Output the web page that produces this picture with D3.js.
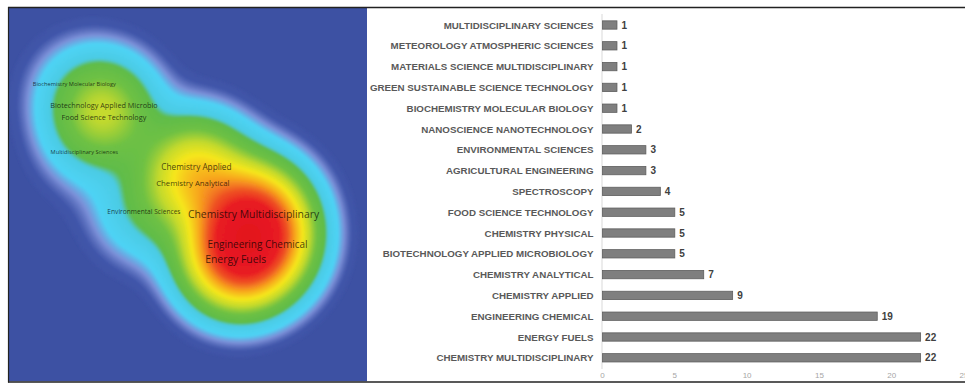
<!DOCTYPE html>
<html>
<head>
<meta charset="utf-8">
<script src="https://cdn.jsdelivr.net/npm/d3@7"></script>
<style>
  html, body { margin: 0; padding: 0; background: #fff; }
  svg { display: block; }
</style>
</head>
<body>
<svg id="chart" width="965" height="384"></svg>
<script>
// ---- Term density map: labels, map coordinates and occurrence weights ----
const mapTerms = [
  "Biochemistry Molecular Biology", "Biotechnology Applied Microbio", "Food Science Technology",
  "Multidisciplinary Sciences", "Chemistry Applied", "Chemistry Analytical",
  "Environmental Sciences", "Chemistry Multidisciplinary", "Engineering Chemical", "Energy Fuels"
];
const mapX = [0.183, 0.266, 0.266, 0.211, 0.525, 0.515, 0.378, 0.685, 0.696, 0.635];
const mapY = [0.214, 0.271, 0.306, 0.403, 0.445, 0.489, 0.571, 0.577, 0.662, 0.703];
const mapWeights = [1, 5, 5, 1, 9, 7, 3, 22, 19, 22];

// ---- Bar chart: Web of Science categories and record counts ----
const categories = [
  "MULTIDISCIPLINARY SCIENCES", "METEOROLOGY ATMOSPHERIC SCIENCES", "MATERIALS SCIENCE MULTIDISCIPLINARY",
  "GREEN SUSTAINABLE SCIENCE TECHNOLOGY", "BIOCHEMISTRY MOLECULAR BIOLOGY", "NANOSCIENCE NANOTECHNOLOGY",
  "ENVIRONMENTAL SCIENCES", "AGRICULTURAL ENGINEERING", "SPECTROSCOPY", "FOOD SCIENCE TECHNOLOGY",
  "CHEMISTRY PHYSICAL", "BIOTECHNOLOGY APPLIED MICROBIOLOGY", "CHEMISTRY ANALYTICAL",
  "CHEMISTRY APPLIED", "ENGINEERING CHEMICAL", "ENERGY FUELS", "CHEMISTRY MULTIDISCIPLINARY"
];
const counts = [1, 1, 1, 1, 1, 2, 3, 3, 4, 5, 5, 5, 7, 9, 19, 22, 22];
const axisTicks = [0, 5, 10, 15, 20, 25];

const svg = d3.select("#chart");

// ================= Density map panel =================
const map = { x0: 9, y0: 8, x1: 367, y1: 381.5 };
const unitPx = 357;
const xMap = d3.scaleLinear().domain([0, 1]).range([map.x0, map.x0 + unitPx]);
const yMap = d3.scaleLinear().domain([0, 1]).range([map.y0, map.y0 + unitPx]);
const bandwidth = 0.091;               // kernel width in map units
const sigmaPx = bandwidth * unitPx;

const cell = 2;
const gw = Math.ceil((map.x1 - map.x0) / cell) + 1;
const gh = Math.ceil((map.y1 - map.y0) / cell) + 1;
const pts = mapTerms.map((t, i) => ({ x: xMap(mapX[i]), y: yMap(mapY[i]), w: mapWeights[i] }));
const grid = new Float64Array(gw * gh);
for (let j = 0; j < gh; j++) {
  const py = map.y0 + j * cell;
  for (let i = 0; i < gw; i++) {
    const px = map.x0 + i * cell;
    let s = 0;
    for (const p of pts) {
      const dx = px - p.x, dy = py - p.y;
      s += p.w * Math.exp(-(dx * dx + dy * dy) / (2 * sigmaPx * sigmaPx));
    }
    grid[j * gw + i] = s;
  }
}
const dMax = d3.max(grid);

// colour ramp over relative density
const heat = d3.scaleLinear()
  .domain([0, 0.009, 0.018, 0.03, 0.064, 0.077, 0.13, 0.2, 0.28, 0.4, 0.52, 0.66, 1])
  .range(["#3d51a3", "#4257aa", "#7c90d8", "#4fd3f5", "#4ccbe2", "#60bc49", "#6fc144",
          "#c4da2d", "#f6e71b", "#f7a01f", "#ef5223", "#e81d24", "#e3131e"])
  .clamp(true);

const nLevels = 170;
const lo = 0.005;
const levels = d3.range(nLevels).map(i => dMax * lo * Math.pow(1 / lo, i / (nLevels - 1)));

svg.append("defs").html(
  `<clipPath id="mapClip"><rect x="${map.x0}" y="${map.y0}" width="${map.x1 - map.x0}" height="${map.y1 - map.y0}"/></clipPath>
   <filter id="soft" x="-5%" y="-5%" width="110%" height="110%"><feGaussianBlur stdDeviation="0.9"/></filter>`
);

const mapG = svg.append("g").attr("clip-path", "url(#mapClip)");
mapG.append("rect")
  .attr("x", map.x0).attr("y", map.y0)
  .attr("width", map.x1 - map.x0).attr("height", map.y1 - map.y0)
  .attr("fill", heat(0));

const contours = d3.contours().size([gw, gh]).thresholds(levels)(grid);
const path = d3.geoPath(d3.geoIdentity()
  .scale(cell).translate([map.x0 - cell / 2, map.y0 - cell / 2]));
mapG.append("g").attr("filter", "url(#soft)")
  .selectAll("path").data(contours).join("path")
  .attr("d", path)
  .attr("fill", d => heat(d.value / dMax));

const fontScale = d3.scaleSqrt().domain([1, 22]).range([5.7, 10.4]);
mapG.append("g").selectAll("text").data(pts).join("text")
  .attr("x", d => d.x).attr("y", d => d.y)
  .attr("text-anchor", "middle").attr("dominant-baseline", "central")
  .attr("font-family", "'Open Sans', sans-serif")
  .attr("font-size", d => fontScale(d.w))
  .attr("fill", "#000").attr("fill-opacity", 0.72)
  .text((d, i) => mapTerms[i]);

// ================= Bar chart panel =================
const x = d3.scaleLinear().domain([0, 25]).range([602, 963.5]);
const y = d3.scaleBand().domain(categories).range([14.6, 368.2]).paddingInner(0.6).paddingOuter(0.3);

svg.append("line")
  .attr("x1", x(0)).attr("x2", x(0)).attr("y1", 14).attr("y2", 369)
  .attr("stroke", "#d9d9d9").attr("stroke-width", 1);

svg.append("g").selectAll("rect").data(categories).join("rect")
  .attr("x", x(0) + 0.5)
  .attr("y", d => y(d))
  .attr("width", (d, i) => x(counts[i]) - x(0))
  .attr("height", y.bandwidth())
  .attr("fill", "#7f7f7f").attr("stroke", "#5e5e5e").attr("stroke-width", 0.8);

svg.append("g").selectAll("text").data(categories).join("text")
  .attr("x", 593.5)
  .attr("y", d => y(d) + y.bandwidth() / 2)
  .attr("text-anchor", "end").attr("dominant-baseline", "central")
  .attr("font-family", "'Liberation Sans', Arial, sans-serif")
  .attr("font-weight", "bold").attr("font-size", 9.75)
  .attr("fill", "#595959")
  .text(d => d);

svg.append("g").selectAll("text").data(categories).join("text")
  .attr("x", (d, i) => x(counts[i]) + 5)
  .attr("y", d => y(d) + y.bandwidth() / 2)
  .attr("dominant-baseline", "central")
  .attr("font-family", "'Liberation Sans', Arial, sans-serif")
  .attr("font-weight", "bold").attr("font-size", 10)
  .attr("fill", "#404040")
  .text((d, i) => counts[i]);

const xAxis = svg.append("g").attr("transform", "translate(0,372)")
  .call(d3.axisBottom(x).tickValues(axisTicks).tickSize(0).tickPadding(0));
xAxis.select(".domain").remove();
xAxis.selectAll("text")
  .attr("font-family", "'Liberation Sans', Arial, sans-serif")
  .attr("font-size", 8).attr("fill", "#a6a6a6");

// ================= Frame =================
const frame = svg.append("g").attr("stroke", "#222").attr("fill", "none");
frame.append("line").attr("x1", 8).attr("x2", 965).attr("y1", 7.5).attr("y2", 7.5).attr("stroke-width", 1.5);
frame.append("line").attr("x1", 8).attr("x2", 965).attr("y1", 382).attr("y2", 382).attr("stroke-width", 1.5);
frame.append("line").attr("x1", 8.5).attr("x2", 8.5).attr("y1", 7).attr("y2", 382.5).attr("stroke-width", 1.2);
</script>
</body>
</html>
